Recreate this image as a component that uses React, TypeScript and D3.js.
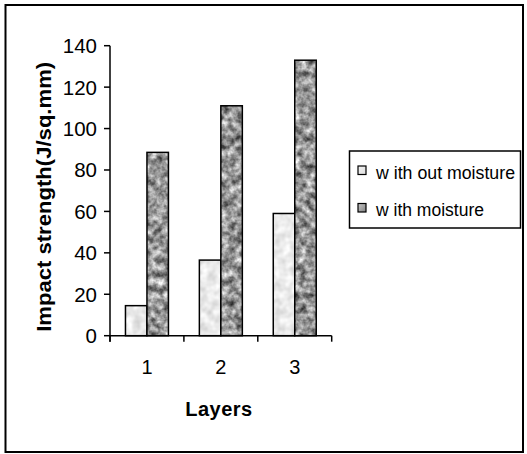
import React from "react";
import * as d3 from "d3";

const categories = ["1", "2", "3"];
const seriesNames = ["w ith out moisture", "w ith moisture"];
const withoutMoisture = [14.5, 36.5, 59];
const withMoisture = [88.5, 111, 133];
const yTicks = [0, 20, 40, 60, 80, 100, 120, 140];

const W = 527;
const H = 454;

export default function App() {
  const left = 110;
  const right = 331.7;
  const top = 45.7;
  const bottom = 335.7;

  const x = d3.scaleBand<string>().domain(categories).range([left, right]).paddingInner(0).paddingOuter(0);
  const inner = d3.scaleBand<string>().domain(["a", "b"]).range([0, x.bandwidth()]).paddingInner(0).paddingOuter(0.72);
  const y = d3.scaleLinear().domain([0, 140]).range([bottom, top]);

  const series = [
    { key: "a", values: withoutMoisture, fill: "#ececec", filter: "url(#noiseLight)" },
    { key: "b", values: withMoisture, fill: "#a0a0a0", filter: "url(#noiseDark)" },
  ];

  const font = "'Liberation Sans', Arial, sans-serif";

  return (
    <svg width={W} height={H} style={{ position: "absolute", left: 0, top: 0 }} xmlns="http://www.w3.org/2000/svg">
      <defs>
        <filter id="noiseLight" x="0" y="0" width="1" height="1" filterUnits="objectBoundingBox" colorInterpolationFilters="sRGB">
          <feTurbulence type="fractalNoise" baseFrequency="0.12" numOctaves="2" seed="4" result="t" />
          <feColorMatrix in="t" type="matrix" values="0.28 0 0 0 0.78  0.28 0 0 0 0.78  0.28 0 0 0 0.78  0 0 0 0 1" result="g" />
          <feComposite in="g" in2="SourceGraphic" operator="in" />
        </filter>
        <filter id="noiseDark" x="0" y="0" width="1" height="1" filterUnits="objectBoundingBox" colorInterpolationFilters="sRGB">
          <feTurbulence type="fractalNoise" baseFrequency="0.14" numOctaves="3" seed="7" result="t" />
          <feColorMatrix in="t" type="matrix" values="1.1 0 0 0 0.04  1.1 0 0 0 0.04  1.1 0 0 0 0.04  0 0 0 0 1" result="g" />
          <feComposite in="g" in2="SourceGraphic" operator="in" />
        </filter>
        <linearGradient id="legLight" x1="0" y1="0" x2="1" y2="1">
          <stop offset="0" stopColor="#f4f4f4" />
          <stop offset="1" stopColor="#dcdcdc" />
        </linearGradient>
        <linearGradient id="legDark" x1="0" y1="0" x2="1" y2="1">
          <stop offset="0" stopColor="#c8c8c8" />
          <stop offset="1" stopColor="#808080" />
        </linearGradient>
      </defs>
      <rect x={0} y={0} width={W} height={H} fill="#fff" />
      <rect x={5.5} y={5} width={517.5} height={447} fill="none" stroke="#000" strokeWidth={2} />

      {/* bars */}
      {series.map((s) =>
        categories.map((c, i) => {
          const bx = (x(c) ?? 0) + (inner(s.key) ?? 0);
          const by = y(s.values[i]);
          const bw = inner.bandwidth();
          const bh = bottom - by;
          return (
            <g key={s.key + c}>
              <rect x={bx} y={by} width={bw} height={bh} fill={s.fill} filter={s.filter} />
              <rect x={bx} y={by} width={bw} height={bh} fill="none" stroke="#000" strokeWidth={1.5} />
            </g>
          );
        })
      )}

      {/* y axis */}
      <line x1={left} y1={top} x2={left} y2={bottom + 6} stroke="#000" strokeWidth={1.5} />
      {yTicks.map((t) => (
        <g key={t}>
          <line x1={left - 6} x2={left} y1={y(t)} y2={y(t)} stroke="#000" strokeWidth={1.5} />
          <text x={97} y={y(t)} dy="0.36em" textAnchor="end" fontFamily={font} fontSize={20.5} fill="#000">
            {t}
          </text>
        </g>
      ))}

      {/* x axis */}
      <line x1={left} y1={bottom} x2={right} y2={bottom} stroke="#000" strokeWidth={1.5} />
      {[...categories.map((c) => x(c) ?? 0), right].map((px, i) => (
        <line key={i} x1={px} x2={px} y1={bottom} y2={bottom + 6} stroke="#000" strokeWidth={1.5} />
      ))}
      {categories.map((c) => (
        <text key={c} x={(x(c) ?? 0) + x.bandwidth() / 2} y={374} textAnchor="middle" fontFamily={font} fontSize={20} fill="#000">
          {c}
        </text>
      ))}

      <text x={219} y={416} textAnchor="middle" fontFamily={font} fontSize={20} fontWeight="bold" letterSpacing={0.5} fill="#000">
        Layers
      </text>
      <text
        transform={`translate(51, ${(61.7 + 332) / 2}) rotate(-90)`}
        textAnchor="middle"
        fontFamily={font}
        fontSize={20.5}
        fontWeight="bold"
        textLength={270}
        lengthAdjust="spacingAndGlyphs"
        fill="#000"
      >
        Impact strength(J/sq.mm)
      </text>

      {/* legend */}
      <rect x={349.5} y={151} width={171} height={77} fill="#fff" stroke="#000" strokeWidth={1.5} />
      {seriesNames.map((n, i) => (
        <g key={n} transform={`translate(0, ${i * 37.5})`}>
          <rect x={358} y={166} width={8} height={8.5} fill={i === 0 ? "url(#legLight)" : "url(#legDark)"} stroke="#000" strokeWidth={1.2} />
          <text x={376} y={178.5} fontFamily={font} fontSize={18} textLength={i === 0 ? 139 : 108} lengthAdjust="spacingAndGlyphs" fill="#000">
            {n}
          </text>
        </g>
      ))}
    </svg>
  );
}
